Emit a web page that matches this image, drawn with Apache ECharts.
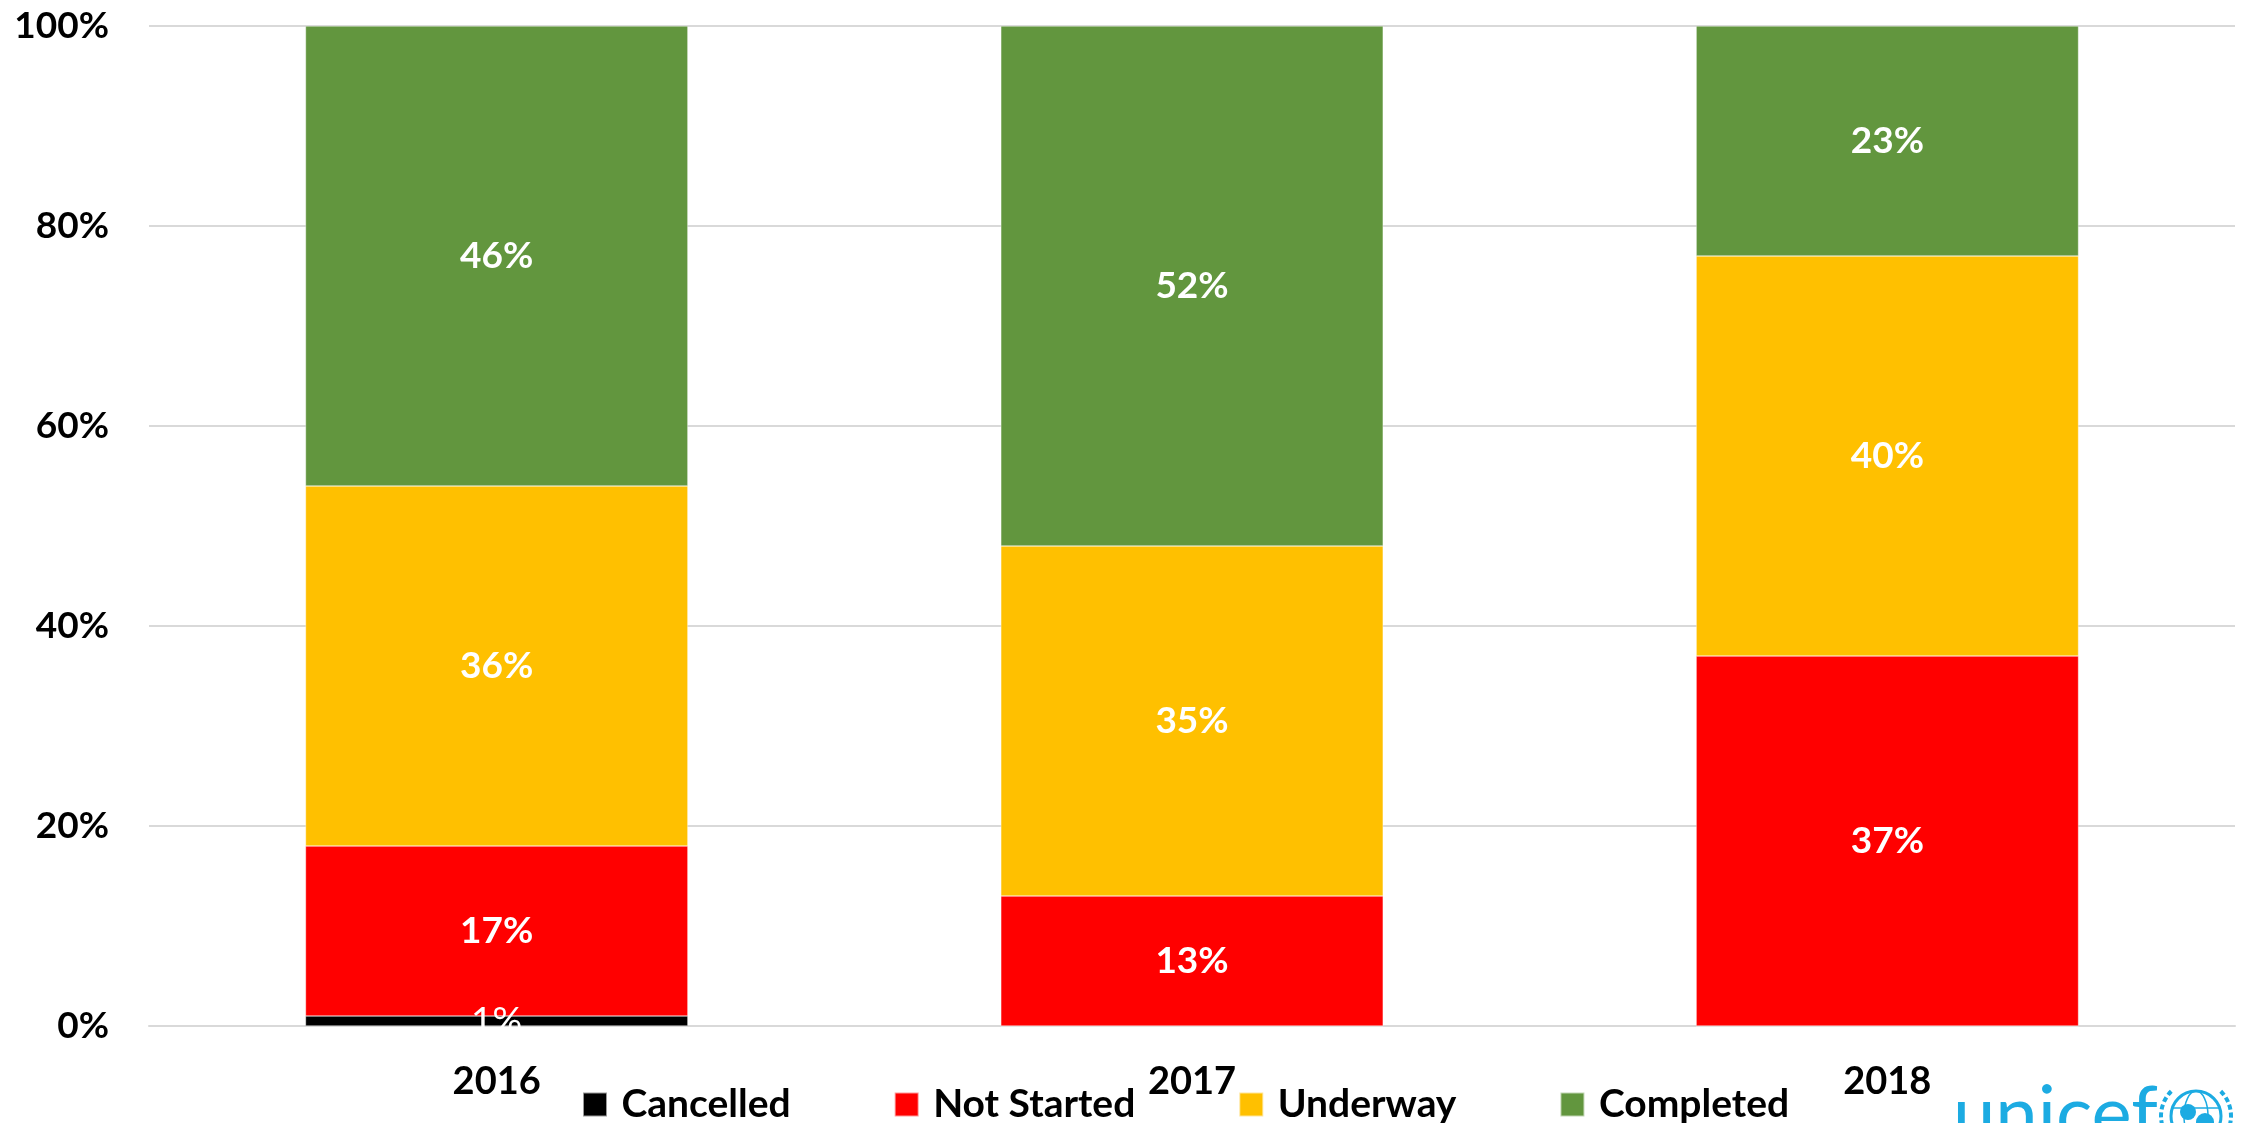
<!DOCTYPE html>
<html>
<head>
<meta charset="utf-8">
<script src="https://cdn.jsdelivr.net/npm/echarts@6/dist/echarts.min.js"></script>
<style>
html,body{margin:0;padding:0;background:#fff;}
#c{width:2246px;height:1123px;}
</style>
</head>
<body>
<div id="c"></div>
<script>
const categories = ['2016', '2017', '2018'];
const cancelled  = [1, 0, 0];
const notStarted = [17, 13, 37];
const underway   = [36, 35, 40];
const completed  = [46, 52, 23];
const yTicks = [0, 20, 40, 60, 80, 100];

const FONT = 'Lato';
const chart = echarts.init(document.getElementById('c'));

function lbl(bold) {
  return {
    show: true,
    position: 'inside',
    color: '#fff',
    fontFamily: FONT,
    fontSize: 37,
    fontWeight: bold ? 'bold' : 'normal',
    formatter: p => (p.value ? p.value + '%' : '')
  };
}
function mk(name, data, color, bold) {
  return {
    name: name, type: 'bar', stack: 'total', data: data,
    barWidth: '55%',
    itemStyle: { color: color, borderColor: 'rgba(255,255,255,0.6)', borderWidth: 0.6 },
    label: lbl(bold),
    emphasis: { disabled: true }
  };
}

chart.setOption({
  animation: false,
  grid: { left: 149, right: 11, top: 26, bottom: 97, containLabel: false },
  legend: {
    left: 577, top: 1080,
    itemWidth: 24, itemHeight: 24, itemGap: 103,
    icon: 'rect',
    formatter: n => ' ' + n,
    textStyle: { fontFamily: FONT, fontSize: 39, fontWeight: 'bold', color: '#000' },
    data: ['Cancelled', 'Not Started', 'Underway', 'Completed']
  },
  xAxis: {
    type: 'category', data: categories,
    axisTick: { show: false },
    axisLine: { lineStyle: { color: '#D9D9D9', width: 2 } },
    axisLabel: { margin: 37, fontFamily: FONT, fontSize: 38, fontWeight: 'bold', color: '#000' }
  },
  yAxis: {
    type: 'value', min: 0, max: 100, interval: 20,
    axisLine: { show: false }, axisTick: { show: false },
    splitLine: { lineStyle: { color: '#D9D9D9', width: 2 } },
    axisLabel: {
      margin: 40, fontFamily: FONT, fontSize: 37, fontWeight: 'bold', color: '#000',
      formatter: v => (yTicks.indexOf(v) >= 0 ? v + '%' : '')
    }
  },
  series: [
    mk('Cancelled', cancelled, '#000000', false),
    mk('Not Started', notStarted, '#FF0000', true),
    mk('Underway', underway, '#FFC000', true),
    mk('Completed', completed, '#62963E', true)
  ],
  graphic: [
    { type: 'text', left: 1953, top: 1077, silent: true,
      style: { text: 'unicef', fill: '#1CABE2', font: 'normal 76px Lato' } },
    { type: 'circle', silent: true, shape: { cx: 2196, cy: 1116, r: 25 },
      style: { fill: 'none', stroke: '#1CABE2', lineWidth: 3 } },
    { type: 'ellipse', silent: true, shape: { cx: 2196, cy: 1116, rx: 12, ry: 25 },
      style: { fill: 'none', stroke: '#1CABE2', lineWidth: 1.5 } },
    { type: 'line', silent: true, shape: { x1: 2171, y1: 1108, x2: 2221, y2: 1108 },
      style: { stroke: '#1CABE2', lineWidth: 1.5 } },
    { type: 'circle', silent: true, shape: { cx: 2188, cy: 1112, r: 8 },
      style: { fill: '#1CABE2' } },
    { type: 'circle', silent: true, shape: { cx: 2205, cy: 1122, r: 9 },
      style: { fill: '#1CABE2' } },
    { type: 'arc', silent: true, shape: { cx: 2196, cy: 1116, r: 35, startAngle: Math.PI * 0.55, endAngle: Math.PI * 1.25 },
      style: { fill: 'none', stroke: '#1CABE2', lineWidth: 4, lineDash: [5, 3] } },
    { type: 'arc', silent: true, shape: { cx: 2196, cy: 1116, r: 35, startAngle: Math.PI * 1.75, endAngle: Math.PI * 0.45 },
      style: { fill: 'none', stroke: '#1CABE2', lineWidth: 4, lineDash: [5, 3] } }
  ]
});
</script>
</body>
</html>
